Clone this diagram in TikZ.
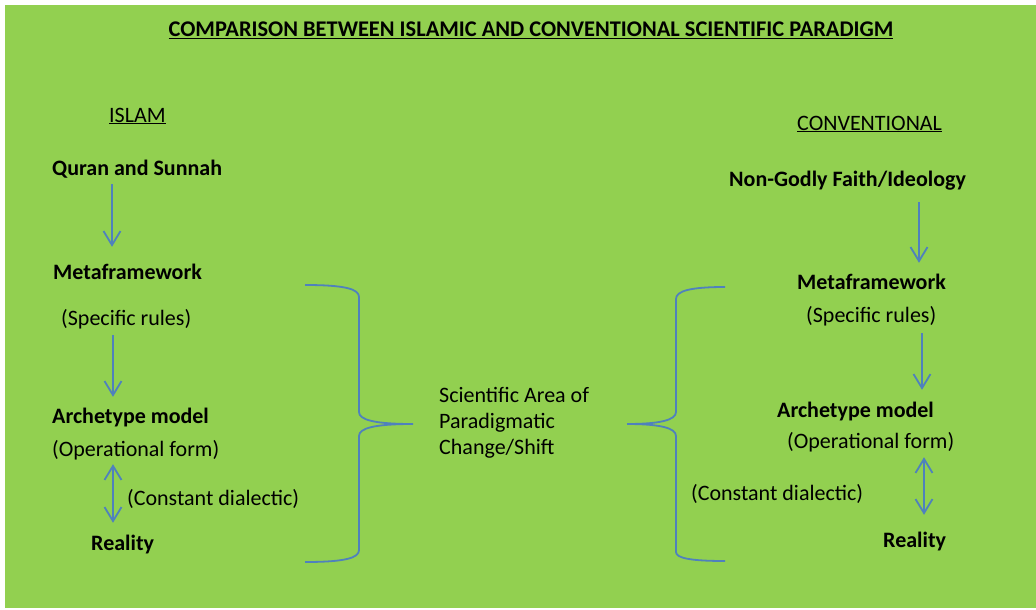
\documentclass[tikz,border=0pt]{standalone}
\usepackage{fontspec}
\setmainfont{Carlito}
\usetikzlibrary{arrows.meta}
\definecolor{bggreen}{HTML}{92D050}
\definecolor{lineblue}{HTML}{4F81BD}
\begin{document}
\begin{tikzpicture}[x=1pt,y=-1pt,
  txt/.style={anchor=base west,inner sep=0pt,text height=15pt,text depth=5pt,font=\fontsize{22}{26.5}\selectfont},
  btxt/.style={txt,font=\fontsize{22}{26.5}\selectfont\bfseries},
  arr/.style={draw=lineblue,line width=1.8pt,-{Straight Barb[length=14pt,width=17pt]}},
  darr/.style={draw=lineblue,line width=1.8pt,{Straight Barb[length=14pt,width=17pt]}-{Straight Barb[length=14pt,width=17pt]}},
  bracestyle/.style={draw=lineblue,line width=1.8pt}]
\useasboundingbox (0,0) rectangle (1036,610);
\fill[white] (0,0) rectangle (1036,610);
\fill[bggreen] (5,5) rectangle (1036,608);
% title
\node[btxt,anchor=base,font=\fontsize{22.4}{26.5}\selectfont\bfseries] (title) at (531,37) {\underline{COMPARISON BETWEEN ISLAMIC AND CONVENTIONAL SCIENTIFIC PARADIGM}};
% left column
\node[txt] (islam) at (109,122) {\underline{ISLAM}};
\node[btxt] (qs) at (52,175) {Quran and Sunnah};
\node[btxt] (lmf) at (53,279) {Metaframework};
\node[txt] (lsr) at (61,325) {(Specific rules)};
\node[btxt] (lam) at (52,423) {Archetype model};
\node[txt] (lof) at (52,456) {(Operational form)};
\node[txt] (lcd) at (127,505) {(Constant dialectic)};
\node[btxt] (lre) at (91,550) {Reality};
% right column
\node[txt] (conv) at (797,130) {\underline{CONVENTIONAL}};
\node[btxt] (ngf) at (729,186) {Non-Godly Faith/Ideology};
\node[btxt] (rmf) at (797,289) {Metaframework};
\node[txt] (rsr) at (806,322) {(Specific rules)};
\node[btxt] (ram) at (777,417) {Archetype model};
\node[txt] (rof) at (787,448) {(Operational form)};
\node[txt] (rcd) at (691,500) {(Constant dialectic)};
\node[btxt] (rre) at (883,547) {Reality};
% centre
\node[anchor=base west,inner sep=0pt,align=left,font=\fontsize{22}{26}\selectfont] (mid) at (439,454) {Scientific Area of\\Paradigmatic\\Change/Shift};
% arrow x positions
\coordinate (LX1) at (112,0);
\coordinate (LX2) at (113,0);
\coordinate (RX1) at (919,0);
\coordinate (RX2) at (922,0);
\coordinate (RX3) at (924,0);
% left arrows
\draw[arr] ([yshift=-4pt]qs.south -| LX1) -- ([yshift=17pt]lmf.north -| LX1);
\draw[arr] ([yshift=-5pt]lsr.south -| LX2) -- ([yshift=11pt]lam.north -| LX2);
\draw[darr] ([yshift=-3pt]lof.south -| LX2) -- ([yshift=12pt]lre.north -| LX2);
% right arrows
\draw[arr] ([yshift=-11pt]ngf.south -| RX1) -- ([yshift=11pt]rmf.north -| RX1);
\draw[arr] ([yshift=-6pt]rsr.south -| RX2) -- ([yshift=12pt]ram.north -| RX2);
\draw[darr] ([yshift=-4pt]rof.south -| RX3) -- ([yshift=17pt]rre.north -| RX3);
% braces
\draw[bracestyle] (305,285) .. controls (345,285) and (359,289) .. (359,297)
  -- (359,412) .. controls (359,420) and (375,424) .. (413,424)
  .. controls (375,424) and (359,428) .. (359,436)
  -- (359,550) .. controls (359,558) and (345,562) .. (305,562);
\draw[bracestyle] (725,287) .. controls (690,287) and (676,291) .. (676,299)
  -- (676,412) .. controls (676,420) and (660,424) .. (627,424)
  .. controls (660,424) and (676,428) .. (676,436)
  -- (676,552) .. controls (676,558) and (690,561) .. (725,561);
\end{tikzpicture}
\end{document}
